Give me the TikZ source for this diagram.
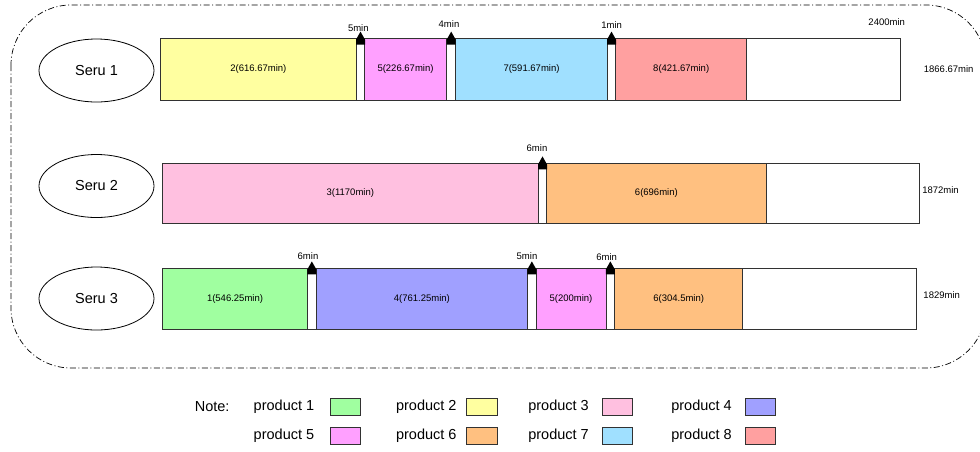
\documentclass[tikz,border=0pt]{standalone}
\usepackage{fontspec}
\setmainfont{Liberation Sans}
\usetikzlibrary{shapes.geometric}
\definecolor{pOne}{RGB}{160,255,160}
\definecolor{pTwo}{RGB}{255,255,160}
\definecolor{pThree}{RGB}{255,192,224}
\definecolor{pFour}{RGB}{160,160,255}
\definecolor{pFive}{RGB}{255,160,255}
\definecolor{pSix}{RGB}{255,192,128}
\definecolor{pSeven}{RGB}{160,224,255}
\definecolor{pEight}{RGB}{255,160,160}
\definecolor{edge}{RGB}{50,50,50}
% one block of a schedule bar: name, x1, x2, y1, y2, fill, label
\newcommand\seg[7]{%
  \node[barseg, fill=#6, minimum width={#3-#2}, minimum height={#5-#4}]
    (#1) at ({(#2+#3)/2},{(#4+#5)/2}) {#7};}
% setup-time marker on top of a gap block
\newcommand\gapmark[1]{%
  \fill[black] ([yshift=6.5pt]#1.north)
    -- ([xshift=4.5pt,yshift=-1.5pt]#1.north)
    -- ([xshift=4.5pt,yshift=-6.5pt]#1.north)
    -- ([xshift=-4.5pt,yshift=-6.5pt]#1.north)
    -- ([xshift=-4.5pt,yshift=-1.5pt]#1.north) -- cycle;}
\begin{document}
\begin{tikzpicture}[x=1pt,y=-1pt,
  barseg/.style={draw=edge, line width=0.8pt, inner sep=0pt,
    font=\fontsize{9.5}{11}\selectfont},
  small/.style={inner sep=0pt, font=\fontsize{9.5}{11}\selectfont},
  seru/.style={draw=black, line width=0.8pt, ellipse, minimum width=115pt,
    minimum height=63pt, font=\fontsize{14.5}{17}\selectfont},
  legtext/.style={inner sep=0pt, anchor=east, font=\fontsize{14.5}{17}\selectfont},
  legbox/.style={draw=edge, line width=0.8pt, minimum width=30.5pt,
    minimum height=17.5pt, inner sep=0pt},
  frame/.style={draw=black, line width=0.7pt, rounded corners=60pt,
    dash pattern=on 6pt off 2.5pt on 1pt off 2.5pt}]
\useasboundingbox (0,0) rectangle (980,451);

% outer dash-dot frame
\draw[frame] (11,5) rectangle (986,368);

% cells
\node[seru] (s1) at (96.5,70.5) {Seru 1};
\node[seru] (s2) at (96.5,186) {Seru 2};
\node[seru] (s3) at (96.5,298.5) {Seru 3};

% Seru 1 schedule
\seg{a1}{160}{356.7}{38.5}{100}{pTwo}{2(616.67min)}
\seg{ag1}{356.7}{364.3}{38.5}{100}{white}{}
\seg{a2}{364.3}{446.7}{38.5}{100}{pFive}{5(226.67min)}
\seg{ag2}{446.7}{455.7}{38.5}{100}{white}{}
\seg{a3}{455.7}{607.3}{38.5}{100}{pSeven}{7(591.67min)}
\seg{ag3}{607.3}{615.7}{38.5}{100}{white}{}
\seg{a4}{615.7}{746.7}{38.5}{100}{pEight}{8(421.67min)}
\seg{a5}{746.7}{900}{38.5}{100}{white}{}
\gapmark{ag1}\gapmark{ag2}\gapmark{ag3}
\node[small] (la1) at (358.3,28) {5min};
\node[small] (la2) at (449,24.5) {4min};
\node[small] (la3) at (611.7,25.5) {1min};
\node[small] (cap) at (886.7,22) {2400min};
\node[small] (ta) at (948.7,69.3) {1866.67min};

% Seru 2 schedule
\seg{b1}{162.3}{538.3}{163.3}{223.3}{pThree}{3(1170min)}
\seg{bg1}{538.3}{546.7}{163.3}{223.3}{white}{}
\seg{b2}{546.7}{766}{163.3}{223.3}{pSix}{6(696min)}
\seg{b3}{766}{919}{163.3}{223.3}{white}{}
\gapmark{bg1}
\node[small] (lb1) at (537,148) {6min};
\node[small] (tb) at (940.5,190) {1872min};

% Seru 3 schedule
\seg{c1}{162.3}{307.7}{268.3}{329}{pOne}{1(546.25min)}
\seg{cg1}{307.7}{316}{268.3}{329}{white}{}
\seg{c2}{316}{527.7}{268.3}{329}{pFour}{4(761.25min)}
\seg{cg2}{527.7}{536}{268.3}{329}{white}{}
\seg{c3}{536}{606}{268.3}{329}{pFive}{5(200min)}
\seg{cg3}{606}{614.7}{268.3}{329}{white}{}
\seg{c4}{614.7}{742.7}{268.3}{329}{pSix}{6(304.5min)}
\seg{c5}{742.7}{916.7}{268.3}{329}{white}{}
\gapmark{cg1}\gapmark{cg2}\gapmark{cg3}
\node[small] (lc1) at (308,256.5) {6min};
\node[small] (lc2) at (527,256) {5min};
\node[small] (lc3) at (606.7,257) {6min};
\node[small] (tc) at (941.7,295.5) {1829min};

% legend
\node[legtext, anchor=west] (note) at (194.6,407) {Note:};
\node[legtext] (t1) at (314.4,407) {product 1};
\node[legbox, fill=pOne] (k1) at (345.3,407) {};
\node[legtext] (t2) at (456.7,407) {product 2};
\node[legbox, fill=pTwo] (k2) at (481.8,407) {};
\node[legtext] (t3) at (589,407) {product 3};
\node[legbox, fill=pThree] (k3) at (617.3,407) {};
\node[legtext] (t4) at (732,407) {product 4};
\node[legbox, fill=pFour] (k4) at (760.3,407) {};
\node[legtext] (t5) at (314.4,436) {product 5};
\node[legbox, fill=pFive] (k5) at (345.3,436) {};
\node[legtext] (t6) at (456.7,436) {product 6};
\node[legbox, fill=pSix] (k6) at (481.8,436) {};
\node[legtext] (t7) at (589,436) {product 7};
\node[legbox, fill=pSeven] (k7) at (617.3,436) {};
\node[legtext] (t8) at (732,436) {product 8};
\node[legbox, fill=pEight] (k8) at (760.3,436) {};
\end{tikzpicture}
\end{document}
